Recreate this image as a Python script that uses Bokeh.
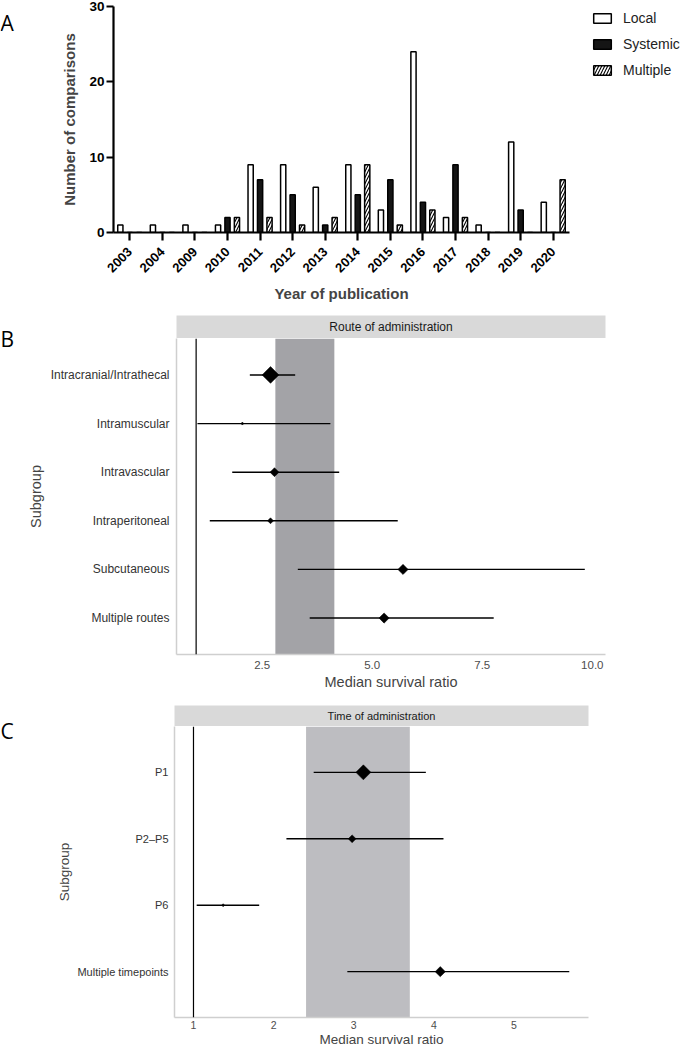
import math
from bokeh.plotting import figure
from bokeh.models import (FactorRange, Range1d, Legend, LegendItem, Span,
                          BoxAnnotation, FixedTicker, ColumnDataSource, NumeralTickFormatter)
from bokeh.transform import dodge
from bokeh.layouts import column, row
from bokeh.embed import file_html
from bokeh.resources import INLINE
from bokeh.core.properties import value

# ---------------- data ----------------
years = ["2003", "2004", "2009", "2010", "2011", "2012", "2013",
         "2014", "2015", "2016", "2017", "2018", "2019", "2020"]
local_counts = [1, 1, 1, 1, 9, 9, 6, 9, 3, 24, 2, 1, 12, 4]
systemic_counts = [0, 0, 0, 2, 7, 5, 1, 5, 7, 4, 9, 0, 3, 0]
multiple_counts = [0, 0, 0, 2, 2, 1, 2, 9, 1, 3, 2, 0, 0, 7]
series_names = ["Local", "Systemic", "Multiple"]
count_ticks = [0, 10, 20, 30]

route_groups = ["Intracranial/Intrathecal", "Intramuscular", "Intravascular",
                "Intraperitoneal", "Subcutaneous", "Multiple routes"]
route_msr = [2.69, 2.05, 2.78, 2.69, 5.70, 5.27]
route_lo = [2.22, 1.03, 1.82, 1.31, 3.31, 3.58]
route_hi = [3.25, 4.05, 4.25, 5.58, 9.83, 7.76]
route_weight = [28, 5, 15, 10, 17, 17]
route_pooled = [2.80, 4.14]
route_ticks = [2.5, 5.0, 7.5, 10.0]

time_groups = ["P1", "P2–P5", "P6", "Multiple timepoints"]
time_msr = [3.12, 2.98, 1.37, 4.08]
time_lo = [2.50, 2.16, 1.04, 2.92]
time_hi = [3.90, 4.12, 1.82, 5.69]
time_weight = [25, 13, 5, 17]
time_pooled = [2.405, 3.70]
time_ticks = [1, 2, 3, 4, 5]

null_ratio = 1.0

# ---------------- style ----------------
FONT = "Liberation Sans"
LETTER_FONT = "Open Sans"
LW = 16          # width of the panel-letter column
W = 669          # width of the forest panel figures
WA = 555         # width of the bar chart figure
WL = 685 - LW - WA   # width of the legend figure

BAR_STYLES = [dict(fill_color="white", line_color="black", line_width=1.5),
              dict(fill_color="#151515", line_color="black", line_width=1.5),
              dict(fill_color="white", line_color="black", line_width=1.5,
                   hatch_pattern="/", hatch_color="black", hatch_scale=6, hatch_weight=1.1)]


def base_fig(**kw):
    p = figure(output_backend="svg", toolbar_location=None, **kw)
    p.frame_align = False
    p.outline_line_color = None
    p.xgrid.visible = False
    p.ygrid.visible = False
    return p


def bare_fig(width, height, x_range=None, y_range=None):
    p = base_fig(width=width, height=height,
                 x_range=x_range if x_range is not None else Range1d(0, width),
                 y_range=y_range if y_range is not None else Range1d(height, 0),
                 min_border_left=0, min_border_right=0,
                 min_border_top=0, min_border_bottom=0, x_axis_type=None, y_axis_type=None)
    return p


def letter_fig(txt, height, baseline):
    p = bare_fig(LW, height)
    p.text(x=[0], y=[baseline], text=[txt], text_font=value(LETTER_FONT),
           text_font_size="21px", text_color="black", text_baseline="alphabetic")
    return p


# ---------------- Panel A ----------------
hA = 306
pA = base_fig(width=WA, height=hA, x_range=FactorRange(*years), y_range=Range1d(0, 30),
              min_border_left=97, min_border_right=2, min_border_top=6, min_border_bottom=74)

srcA = ColumnDataSource(dict(year=years, Local=local_counts,
                             Systemic=systemic_counts, Multiple=multiple_counts))
bw = 0.16
offsets = [-0.29, 0.0, 0.29]
for name, off, st in zip(series_names, offsets, BAR_STYLES):
    pA.vbar(x=dodge("year", off, range=pA.x_range), top=name, width=bw, source=srcA, **st)

xa = pA.xaxis[0]
xa.axis_line_width = 2.2
xa.axis_line_color = "black"
xa.major_tick_line_width = 2.2
xa.major_tick_out = 8
xa.major_tick_in = 0
xa.major_label_orientation = math.pi / 4
xa.major_label_text_font = FONT
xa.major_label_text_font_style = "bold"
xa.major_label_text_font_size = "13px"
xa.major_label_text_color = "black"
xa.major_label_standoff = 9
xa.axis_label = "Year of publication"
xa.axis_label_text_font = FONT
xa.axis_label_text_font_style = "bold"
xa.axis_label_text_font_size = "15px"
xa.axis_label_standoff = 6

ya = pA.yaxis[0]
ya.ticker = FixedTicker(ticks=count_ticks, minor_ticks=[])
ya.axis_line_width = 2.2
ya.axis_line_color = "black"
ya.major_tick_line_width = 2.2
ya.major_tick_out = 7
ya.major_tick_in = 0
ya.minor_tick_line_color = None
ya.major_label_text_font = FONT
ya.major_label_text_font_style = "bold"
ya.major_label_text_font_size = "13.5px"
ya.major_label_text_color = "black"
ya.major_label_standoff = 2
ya.axis_label = "Number of comparisons"
ya.axis_label_text_font = FONT
ya.axis_label_text_font_style = "bold"
ya.axis_label_text_font_size = "15px"
ya.axis_label_standoff = 8

# legend figure: key swatches come from hidden renderers with the same styles
pL = bare_fig(WL, hA, x_range=FactorRange(*years), y_range=Range1d(0, 30))
items = []
for name, st in zip(series_names, BAR_STYLES):
    r = pL.vbar(x="year", top=name, width=bw, source=srcA, **st)
    r.visible = False
    items.append(LegendItem(label=name, renderers=[r]))
legend = Legend(items=items, location=(20, hA - 78), border_line_color=None,
                background_fill_alpha=0, inactive_fill_alpha=0, padding=0, margin=0,
                spacing=10, glyph_width=22, glyph_height=12, label_height=16,
                label_standoff=10, label_text_font=FONT, label_text_font_size="14px",
                label_text_color="#222222")
pL.add_layout(legend)

panelA = row(letter_fig("A", hA, 22), pA, pL, spacing=0)


# ---------------- forest panels ----------------
def strip(title, height, top, left, right, fsize):
    s = base_fig(width=W, height=height, x_range=Range1d(0, 1), y_range=Range1d(0, 1),
                 min_border_left=left, min_border_right=right, min_border_top=top,
                 min_border_bottom=0, x_axis_type=None, y_axis_type=None)
    s.background_fill_color = "#d9d9d9"
    s.border_fill_color = "white"
    s.text(x=[0.5], y=[0.5], text=[title], text_align="center", text_baseline="middle",
           text_font=value(FONT), text_font_size=fsize, text_color="#1a1a1a")
    return s


def forest(groups, msr, lo, hi, weight, pooled, ticks, xr, height, left, right, bottom,
           pad, band_color, fmt, f_tick, f_cat, f_title, x_so, xt_so, y_so, yt_so):
    src = ColumnDataSource(dict(group=groups, msr=msr, lo=lo, hi=hi,
                                size=[w * 0.6 / math.sqrt(2) for w in weight]))
    p = base_fig(width=W, height=height, x_range=Range1d(*xr),
                 y_range=FactorRange(*reversed(groups), range_padding=pad,
                                     range_padding_units="absolute"),
                 min_border_left=left, min_border_right=right, min_border_top=0,
                 min_border_bottom=bottom)
    p.add_layout(BoxAnnotation(left=pooled[0], right=pooled[1], fill_color=band_color,
                               fill_alpha=1, line_color=None, level="underlay"))
    p.add_layout(Span(location=null_ratio, dimension="height", line_color="black",
                      line_width=1.2))
    p.segment(x0="lo", x1="hi", y0="group", y1="group", source=src,
              line_color="black", line_width=1.4)
    p.scatter(x="msr", y="group", size="size", marker="square", angle=math.pi / 4,
              source=src, fill_color="black", line_color="black", line_width=0.5)

    xa = p.xaxis[0]
    xa.ticker = FixedTicker(ticks=ticks, minor_ticks=[])
    if fmt:
        xa.formatter = NumeralTickFormatter(format=fmt)
    xa.axis_line_color = "#cfcfcf"
    xa.axis_line_width = 1.5
    xa.major_tick_line_color = None
    xa.minor_tick_line_color = None
    xa.major_tick_out = 0
    xa.major_tick_in = 0
    xa.minor_tick_out = 0
    xa.major_label_text_font = FONT
    xa.major_label_text_font_size = f_tick
    xa.major_label_text_color = "#4d4d4d"
    xa.major_label_standoff = x_so
    xa.axis_label = "Median survival ratio"
    xa.axis_label_text_font = FONT
    xa.axis_label_text_font_style = "normal"
    xa.axis_label_text_font_size = f_title
    xa.axis_label_standoff = xt_so

    ya = p.yaxis[0]
    ya.axis_line_color = "#cfcfcf"
    ya.axis_line_width = 1.5
    ya.major_tick_line_color = None
    ya.major_tick_out = 0
    ya.major_tick_in = 0
    ya.major_label_text_font = FONT
    ya.major_label_text_font_size = f_cat
    ya.major_label_text_color = "#333333"
    ya.major_label_standoff = y_so
    ya.axis_label = "Subgroup"
    ya.axis_label_text_font = FONT
    ya.axis_label_text_font_style = "normal"
    ya.axis_label_text_font_size = f_title
    ya.axis_label_standoff = yt_so
    return p


sB = strip("Route of administration", 32, 9, 160, 80, "12px")
pB = forest(route_groups, route_msr, route_lo, route_hi, route_weight, route_pooled,
            route_ticks, (0.554, 10.3), 354, 160, 80, 37, 0.25, "#a3a3a7", "0.0",
            "11.5px", "12px", "14.5px", 6, 2, 7, 4)
panelB = row(letter_fig("B", 32 + 354, 32), column(sB, pB, spacing=0), spacing=0)

sC = strip("Time of administration", 34, 13, 158, 97, "11px")
pC = forest(time_groups, time_msr, time_lo, time_hi, time_weight, time_pooled,
            time_ticks, (0.763, 5.93), 323, 158, 97, 30, 0.19, "#bdbdc1", None,
            "10.5px", "11px", "13.5px", 3, 0, 6, 2)
panelC = row(letter_fig("C", 34 + 323, 38), column(sC, pC, spacing=0), spacing=0)

layout = column(panelA, panelB, panelC, spacing=0)
open("out.html", "w").write(file_html(layout, INLINE))
